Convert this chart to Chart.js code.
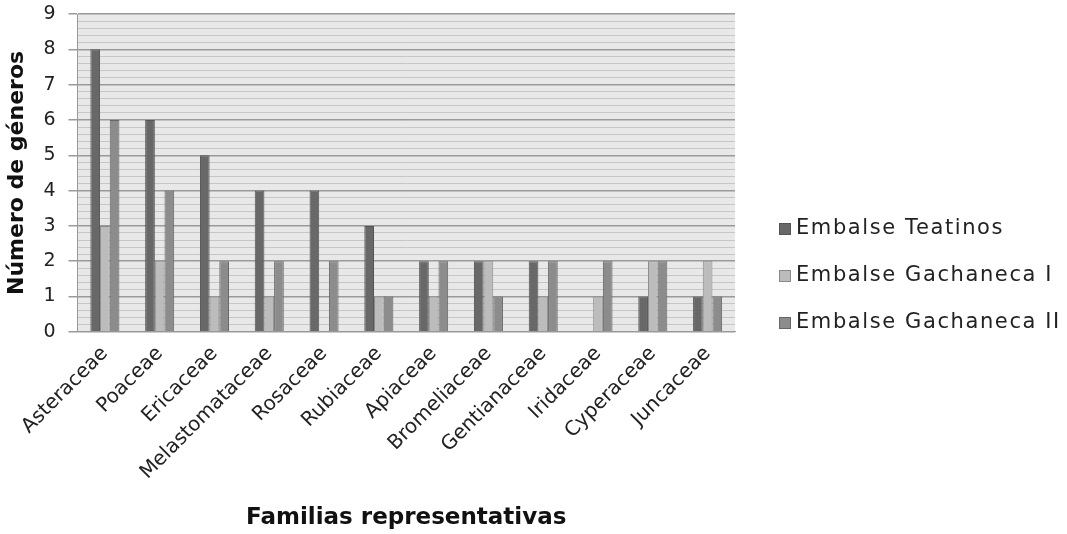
<!DOCTYPE html>
<html>
<head>
<meta charset="utf-8">
<script src="https://cdn.jsdelivr.net/npm/chart.js@4.4.1/dist/chart.umd.min.js"></script>
<style>
  html, body { margin: 0; padding: 0; background: #fff; }
  #wrap { width: 1067px; height: 534px; }
</style>
</head>
<body>
<div id="wrap"><canvas id="myChart"></canvas></div>
<script>
const families = ["Asteraceae", "Poaceae", "Ericaceae", "Melastomataceae", "Rosaceae", "Rubiaceae",
  "Apiaceae", "Bromeliaceae", "Gentianaceae", "Iridaceae", "Cyperaceae", "Juncaceae"];
const teatinos = [8, 6, 5, 4, 4, 3, 2, 2, 2, 0, 1, 1];
const gachanecaI = [3, 2, 1, 1, 0, 1, 1, 2, 1, 1, 2, 2];
const gachanecaII = [6, 4, 2, 2, 2, 1, 2, 1, 2, 2, 2, 1];

const isMajor = v => Math.abs(v - Math.round(v)) < 1e-6;

// light gray plot background
const plotBackground = {
  id: 'plotBackground',
  beforeDraw(chart) {
    const {ctx, chartArea: a} = chart;
    ctx.save();
    ctx.fillStyle = '#e8e8e8';
    ctx.fillRect(a.left, a.top, a.right - a.left, a.bottom - a.top);
    ctx.restore();
  }
};

// legend on the right, drawn from the datasets
const sideLegend = {
  id: 'sideLegend',
  afterDraw(chart) {
    const ctx = chart.ctx;
    const x = chart.chartArea.right + 44;
    const midY = 276;
    const step = 47;
    const sets = chart.data.datasets;
    ctx.save();
    ctx.font = "21px 'DejaVu Sans', Verdana, sans-serif";
    ctx.letterSpacing = '1.6px';
    ctx.textBaseline = 'middle';
    sets.forEach((ds, i) => {
      const y = midY + (i - (sets.length - 1) / 2) * step;
      ctx.fillStyle = ds.backgroundColor;
      ctx.fillRect(x, y - 6, 12, 12);
      ctx.strokeStyle = ds.borderColor;
      ctx.lineWidth = 1;
      ctx.strokeRect(x + 0.5, y - 5.5, 11, 11);
      ctx.fillStyle = '#222';
      ctx.fillText(ds.label, x + 17, y);
    });
    ctx.restore();
  }
};

Chart.defaults.font.family = "'DejaVu Sans', Verdana, sans-serif";
Chart.defaults.color = '#222';

new Chart("myChart", {
  type: "bar",
  data: {
    labels: families,
    datasets: [
      {
        label: "Embalse Teatinos",
        data: teatinos,
        backgroundColor: '#686868',
        borderColor: '#555',
        borderWidth: 1
      },
      {
        label: "Embalse Gachaneca I",
        data: gachanecaI,
        backgroundColor: '#bcbcbc',
        borderColor: '#8a8a8a',
        borderWidth: 1
      },
      {
        label: "Embalse Gachaneca II",
        data: gachanecaII,
        backgroundColor: '#8c8c8c',
        borderColor: '#666',
        borderWidth: 1
      }
    ]
  },
  options: {
    responsive: true,
    maintainAspectRatio: false,
    animation: false,
    layout: { padding: { top: 0, right: 332, bottom: 0, left: 4 } },
    datasets: { bar: { categoryPercentage: 0.53, barPercentage: 1.0 } },
    scales: {
      x: {
        grid: { display: false },
        border: { color: '#999', width: 1 },
        ticks: { font: { size: 20 }, color: '#222', minRotation: 45, maxRotation: 45, padding: 2 },
        title: { display: true, text: 'Familias representativas', font: { size: 23, weight: 'bold' }, color: '#111', padding: { top: 18, bottom: 2 } }
      },
      y: {
        min: 0,
        max: 9,
        ticks: {
          stepSize: 0.2,
          autoSkip: false,
          font: { size: 19 },
          color: '#222',
          padding: 13,
          callback: v => isMajor(v) ? Math.round(v) : ''
        },
        grid: {
          color: c => isMajor(c.tick.value) ? '#9a9a9a' : '#c6c6c6',
          lineWidth: c => isMajor(c.tick.value) ? 1.5 : 1,
          tickColor: c => isMajor(c.tick.value) ? '#9a9a9a' : 'rgba(0,0,0,0)',
          tickLength: 9
        },
        border: { color: '#999', width: 1 },
        title: { display: true, text: 'Número de géneros', font: { size: 22, weight: 'bold' }, color: '#111', padding: { top: 0, bottom: 0 } },
        afterFit: s => { s.paddingTop = 14; s.paddingBottom = 11; }
      }
    },
    plugins: {
      legend: { display: false },
      tooltip: { enabled: false }
    }
  },
  plugins: [plotBackground, sideLegend]
});
</script>
</body>
</html>
